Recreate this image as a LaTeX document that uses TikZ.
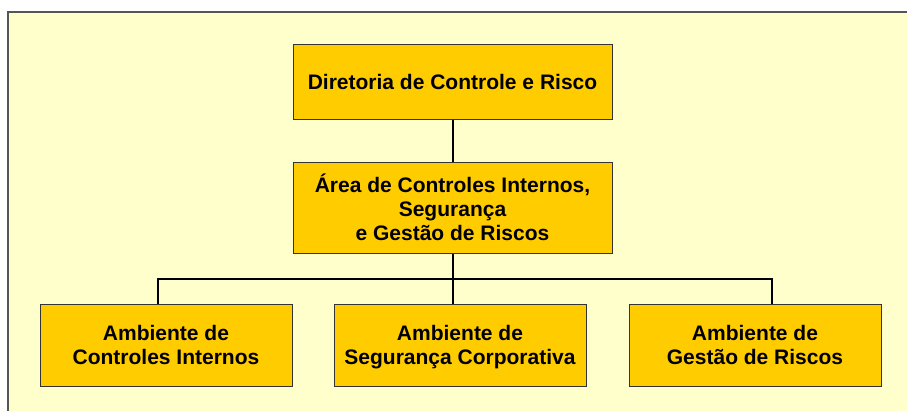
\documentclass[tikz,border=0pt]{standalone}
\usepackage{fontspec}
\setmainfont{Liberation Sans}
\usepackage{tikz}
\usetikzlibrary{calc, positioning}

\definecolor{paleyellow}{HTML}{FFFFCC}
\definecolor{gold}{HTML}{FFCC00}
\definecolor{framegray}{HTML}{555555}

\begin{document}
\begin{tikzpicture}[x=1pt, y=-1pt,
        unit/.style={rectangle, fill=gold, draw=black!80, line width=1pt, inner sep=0pt, align=center,
            font=\fontsize{21}{24}\selectfont\bfseries},
        link/.style={draw, line width=2pt}]
        \useasboundingbox (0,0) rectangle (907,410);
        \fill[paleyellow] (7.5,11.5) rectangle (930,430);
        \draw[framegray, line width=2pt] (7.5,430) |- (930,11.5);

        \node[unit, minimum width=319pt, minimum height=75pt](1) at (452.5,81.5) {Diretoria de Controle e Risco};
        \node[unit, minimum width=319pt, minimum height=91pt](2)[below = 42pt of 1]{\'Area de Controles Internos,\\ Segurança\\ e Gestão de Riscos};
        \node[unit, minimum width=252pt, minimum height=82pt](4)[below = 50pt of 2, xshift=7.5pt]{Ambiente de\\ \smash{Segurança Corporativa}};
        \node[unit, minimum width=252pt, minimum height=82pt](3)[left = 41pt of 4]{Ambiente de\\ Controles Internos};
        \node[unit, minimum width=252pt, minimum height=82pt](5)[right = 42pt of 4]{Ambiente de\\ Gestão de Riscos};

        \coordinate (bus) at ($(2.south)+(0,25)$);

        \path[link]
        (1) edge (2)
        (2.south) edge (2.south |- 4.north);
        \draw[link] ($(3.north)+(-8,0)$) |- (bus) -| ($(5.north)+(17,0)$);
\end{tikzpicture}
\end{document}
